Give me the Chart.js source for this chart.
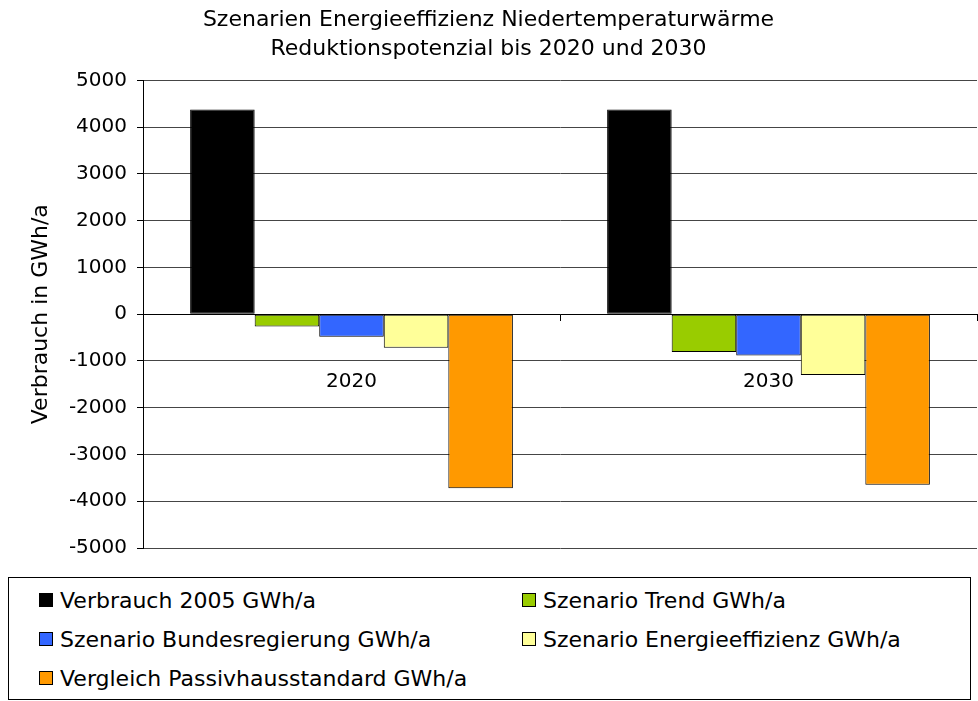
<!DOCTYPE html>
<html lang="de">
<head>
<meta charset="utf-8">
<title>Szenarien Energieeffizienz Niedertemperaturwärme</title>
<script src="https://cdn.jsdelivr.net/npm/chart.js@4/dist/chart.umd.min.js"></script>
<style>
  html, body { margin: 0; padding: 0; background: #fff; }
  #wrap { position: relative; width: 978px; height: 701px; font-family: "DejaVu Sans", sans-serif; }
  #chartBox { position: absolute; left: 0; top: 0; width: 978px; height: 570px; }
  #legend {
    position: absolute; left: 8px; top: 577px; width: 963px; height: 123px;
    border: 1px solid #000; box-sizing: border-box;
    font-size: 22px; color: #000;
  }
  .lg-item { position: absolute; display: flex; align-items: center; white-space: nowrap; }
  .lg-sw { width: 12px; height: 12px; border: 1px solid #000; margin-right: 7px; }
</style>
</head>
<body>
<div id="wrap">
  <div id="chartBox"><canvas id="chart"></canvas></div>
  <div id="legend"></div>
</div>
<script>
/* ---------- Data ---------- */
const categories = ['2020', '2030'];
const seriesNames = [
  'Verbrauch 2005 GWh/a',
  'Szenario Trend GWh/a',
  'Szenario Bundesregierung GWh/a',
  'Szenario Energieeffizienz GWh/a',
  'Vergleich Passivhausstandard GWh/a'
];
const verbrauch2005 = [4380, 4380];
const szenarioTrend = [-265, -810];
const szenarioBundesregierung = [-480, -885];
const szenarioEnergieeffizienz = [-715, -1300];
const passivhausstandard = [-3720, -3650];
const yTicks = [5000, 4000, 3000, 2000, 1000, 0, -1000, -2000, -3000, -4000, -5000];

const seriesValues = [verbrauch2005, szenarioTrend, szenarioBundesregierung, szenarioEnergieeffizienz, passivhausstandard];
const seriesColors = ['#000000', '#99CC00', '#3366FF', '#FFFF99', '#FF9900'];

const FONT = '"DejaVu Sans", sans-serif';

const chart = new Chart(document.getElementById('chart'), {
  type: 'bar',
  data: {
    labels: categories,
    datasets: seriesNames.map((name, i) => ({
      label: name,
      data: seriesValues[i],
      backgroundColor: seriesColors[i],
      borderColor: '#000',
      borderWidth: 1,
      borderSkipped: false,
      categoryPercentage: 0.774,
      barPercentage: 1.0
    }))
  },
  options: {
    responsive: true,
    maintainAspectRatio: false,
    animation: false,
    layout: { padding: { left: 0, right: 1, top: 0, bottom: 0 } },
    plugins: {
      legend: { display: false },
      tooltip: { enabled: false },
      title: {
        display: true,
        text: ['Szenarien Energieeffizienz Niedertemperaturwärme', 'Reduktionspotenzial bis 2020 und 2030'],
        color: '#000',
        font: { family: FONT, size: 22, weight: 'normal', lineHeight: 1.35 },
        padding: { top: 5, bottom: 16 }
      }
    },
    scales: {
      x: {
        position: { y: 0 },
        grid: { display: true, offset: true, drawOnChartArea: false, drawTicks: true, tickLength: 6, tickColor: '#000' },
        border: { display: true, color: '#000', width: 1 },
        ticks: { color: '#000', font: { family: FONT, size: 20 }, padding: 50 }
      },
      y: {
        min: -5000,
        max: 5000,
        afterBuildTicks: (s) => { s.ticks = yTicks.map(v => ({ value: v })); },
        afterFit: (s) => { s.width = 143; },
        grid: { color: '#454545', tickColor: '#000', tickLength: 6 },
        border: { display: true, color: '#000', width: 1 },
        ticks: { color: '#000', font: { family: FONT, size: 20 }, padding: 10, callback: (v) => String(v) },
        title: {
          display: true,
          text: 'Verbrauch in GWh/a',
          color: '#000',
          font: { family: FONT, size: 22 },
          padding: { top: 28, bottom: 0 }
        }
      }
    }
  }
});

/* ---------- HTML legend (two columns, as in the original) ---------- */
const legendEl = document.getElementById('legend');
const legendPos = [
  { left: 30, top: 22 }, { left: 513, top: 22 },
  { left: 30, top: 61 }, { left: 513, top: 61 },
  { left: 30, top: 100 }
];
chart.data.datasets.forEach((ds, i) => {
  const item = document.createElement('div');
  item.className = 'lg-item';
  item.style.left = legendPos[i].left + 'px';
  item.style.top = (legendPos[i].top - 13) + 'px';
  item.style.height = '26px';
  const sw = document.createElement('span');
  sw.className = 'lg-sw';
  sw.style.background = ds.backgroundColor;
  const txt = document.createElement('span');
  txt.textContent = ds.label;
  item.appendChild(sw);
  item.appendChild(txt);
  legendEl.appendChild(item);
});
</script>
</body>
</html>
